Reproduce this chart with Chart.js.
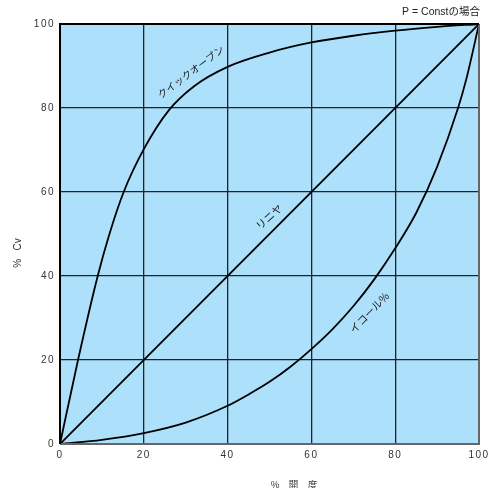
<!DOCTYPE html>
<html><head><meta charset="utf-8">
<script src="https://cdn.jsdelivr.net/npm/chart.js@4"></script>
<style>html,body{margin:0;padding:0;background:#fff}</style>
</head><body>
<canvas id="c" width="498" height="488"></canvas>
<script>
// tick values (% opening and % Cv)
const tickValues = [0, 20, 40, 60, 80, 100];

// クイックオープン (quick opening)
const quickOpen = [0, 4.3, 9, 11.8, 15.2, 20, 26, 32, 40, 50, 60, 70, 80, 90, 100];
const quickCv   = [0, 20, 40, 50, 60, 70.2, 79.5, 85.2, 89.8, 93.2, 95.6, 97.2, 98.4, 99.3, 100];

// リニヤ (linear)
const linearOpen = [0, 100];
const linearCv   = [0, 100];

// イコール% (equal percentage)
const eqOpen = [0, 10, 20, 30, 40, 45, 50, 55, 60, 65, 70, 75, 80, 85, 90, 95, 97, 100];
const eqCv   = [0, 1.0, 2.6, 5.1, 9.1, 11.8, 14.8, 18.4, 22.6, 27.3, 32.8, 39.2, 46.6, 55, 66, 80, 87, 100];

// curve labels
const curveNames = ['クイックオープン', 'リニヤ', 'イコール%'];
const chartNote = 'P = Constの場合';
const xTitle = '%　開　度';
const yTitle = '%   Cv';

const pts = (xs, ys) => xs.map((x, i) => ({x, y: ys[i]}));

// label anchors in data units
const labelAnchors = [
  {x: 31.2, y: 88.6, angle: -37, size: 10},
  {x: 49.9, y: 54.1, angle: -42, size: 10.5},
  {x: 73.8, y: 31.3, angle: -46, size: 10.5}
];

const decor = {
  id: 'decor',
  beforeDraw(chart) {
    const {ctx, chartArea: a} = chart;
    ctx.save();
    ctx.fillStyle = '#fff';
    ctx.fillRect(0, 0, chart.width, chart.height);
    ctx.fillStyle = '#ade0fa';
    ctx.fillRect(a.left, a.top, a.right - a.left, a.bottom - a.top);
    ctx.restore();
    ctx.letterSpacing = '1.5px';
  },
  afterDatasetsDraw(chart) {
    const {ctx, chartArea: a, scales} = chart;
    ctx.save();
    ctx.letterSpacing = '0px';
    ctx.lineWidth = 2;
    ctx.strokeStyle = '#666';
    ctx.beginPath();
    ctx.moveTo(a.left, a.bottom); ctx.lineTo(a.right, a.bottom); ctx.lineTo(a.right, a.top);
    ctx.stroke();
    ctx.strokeStyle = '#000';
    ctx.beginPath();
    ctx.moveTo(a.left, a.bottom); ctx.lineTo(a.left, a.top); ctx.lineTo(a.right, a.top);
    ctx.stroke();

    // curve labels
    ctx.fillStyle = '#222';
    ctx.textAlign = 'center';
    ctx.textBaseline = 'middle';
    curveNames.forEach((t, i) => {
      const an = labelAnchors[i];
      ctx.save();
      ctx.font = an.size + 'px "Noto Sans CJK JP", sans-serif';
      ctx.translate(scales.x.getPixelForValue(an.x), scales.y.getPixelForValue(an.y));
      ctx.rotate(an.angle * Math.PI / 180);
      ctx.fillText(t, 0, 0);
      ctx.restore();
    });

    // note
    ctx.font = '10.5px "Liberation Sans", "Noto Sans CJK JP", sans-serif';
    ctx.textAlign = 'right';
    ctx.fillStyle = '#222';
    ctx.fillText(chartNote, a.right + 1, 12);

    // axis titles
    ctx.fillStyle = '#333';
    ctx.font = '9.5px "Noto Sans CJK JP", sans-serif';
    ctx.textAlign = 'center';
    ctx.fillText(xTitle, 294, 484);
    ctx.save();
    ctx.translate(18, 253);
    ctx.rotate(-Math.PI / 2);
    ctx.font = '10px "Liberation Sans", sans-serif';
    ctx.fillText(yTitle, 0, 0);
    ctx.restore();
    ctx.restore();
  }
};

const tickFont = {family: '"Liberation Sans", Arial, sans-serif', size: 10};
const lineDs = (label, xs, ys) => ({
  label, data: pts(xs, ys),
  borderColor: '#000', borderWidth: 1.8, pointRadius: 0,
  fill: false, tension: 0.4, cubicInterpolationMode: 'monotone'
});

new Chart(document.getElementById('c'), {
  type: 'line',
  data: {
    datasets: [
      lineDs(curveNames[0], quickOpen, quickCv),
      lineDs(curveNames[1], linearOpen, linearCv),
      lineDs(curveNames[2], eqOpen, eqCv)
    ]
  },
  options: {
    responsive: false,
    animation: false,
    events: [],
    layout: {padding: {top: 24, right: 19, left: 0, bottom: 0}},
    plugins: {legend: {display: false}, tooltip: {enabled: false}, title: {display: false}},
    scales: {
      x: {
        type: 'linear', min: 0, max: 100,
        afterBuildTicks: s => { s.ticks = tickValues.map(v => ({value: v})); },
        afterFit: s => { s.height = 44; },
        grid: {color: '#222', lineWidth: 1.3, drawTicks: false},
        border: {display: false},
        ticks: {padding: 5, color: '#333', font: tickFont, maxRotation: 0, autoSkip: false}
      },
      y: {
        type: 'linear', min: 0, max: 100,
        afterBuildTicks: s => { s.ticks = tickValues.map(v => ({value: v})); },
        afterFit: s => { s.width = 60; },
        grid: {color: '#222', lineWidth: 1.3, drawTicks: false},
        border: {display: false},
        ticks: {padding: 5, color: '#333', font: tickFont, autoSkip: false}
      }
    }
  },
  plugins: [decor]
});
</script>
</body></html>
